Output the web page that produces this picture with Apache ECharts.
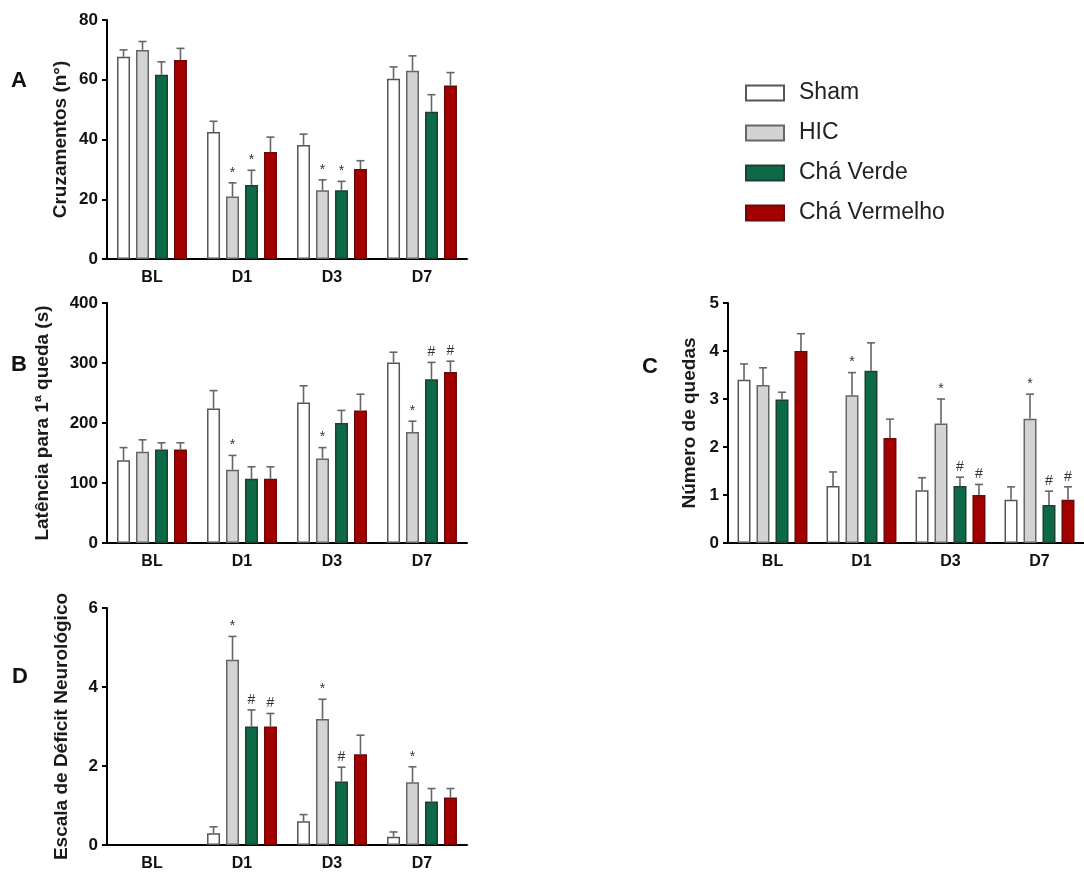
<!DOCTYPE html>
<html>
<head>
<meta charset="utf-8">
<script src="https://cdn.jsdelivr.net/npm/echarts@6/dist/echarts.min.js"></script>
<style>html,body{margin:0;padding:0;background:#fff}#c{width:1084px;height:872px}</style>
</head>
<body>
<div id="c"></div>
<script>
// ---- data ----
const categories = ['BL', 'D1', 'D3', 'D7'];
const groups = ['Sham', 'HIC', 'Chá Verde', 'Chá Vermelho'];

// Panel A: Cruzamentos (n°) — mean per group, cols = BL,D1,D3,D7
const aSham = [67.7, 42.5, 38.2, 60.3];
const aHIC  = [70.0, 20.9, 23.0, 63.0];
const aCV   = [61.7, 24.8, 23.0, 49.3];
const aCVm  = [66.6, 35.8, 30.1, 58.1];
// upper error bar ends
const aShamErr = [70.0, 46.1, 41.8, 64.3];
const aHICErr  = [72.8, 25.5, 26.5, 68.0];
const aCVErr   = [66.0, 29.7, 26.0, 55.0];
const aCVmErr  = [70.5, 40.8, 32.9, 62.4];
const aMarks = [['', '', '', ''], ['', '*', '*', ''], ['', '*', '*', ''], ['', '', '', '']];

// Panel B: Latência para 1ª queda (s)
const bSham = [138, 224, 234, 301];
const bHIC  = [152, 122, 141, 185];
const bCV   = [156, 107, 200, 273];
const bCVm  = [156, 107, 221, 285];
const bShamErr = [159, 254, 262, 318];
const bHICErr  = [172, 146, 159, 203];
const bCVErr   = [167, 127, 221, 301];
const bCVmErr  = [167, 127, 248, 303];
const bMarks = [['', '', '', ''], ['', '*', '', ''], ['', '*', '', ''], ['', '*', '#', '#']];

// Panel C: Número de quedas
const cSham = [3.40, 1.19, 1.10, 0.90];
const cHIC  = [3.29, 3.08, 2.49, 2.59];
const cCV   = [2.99, 3.59, 1.19, 0.79];
const cCVm  = [4.00, 2.19, 1.00, 0.90];
const cShamErr = [3.73, 1.48, 1.36, 1.17];
const cHICErr  = [3.65, 3.55, 3.00, 3.10];
const cCVErr   = [3.14, 4.17, 1.37, 1.08];
const cCVmErr  = [4.36, 2.58, 1.22, 1.17];
const cMarks = [['', '', '', ''], ['', '*', '', ''], ['', '*', '#', '#'], ['', '*', '#', '#']];

// Panel D: Escala de Déficit Neurológico
const dSham = [0, 0.30, 0.60, 0.21];
const dHIC  = [0, 4.69, 3.19, 1.59];
const dCV   = [0, 3.00, 1.61, 1.10];
const dCVm  = [0, 3.00, 2.30, 1.20];
const dShamErr = [0, 0.46, 0.77, 0.33];
const dHICErr  = [0, 5.28, 3.69, 1.98];
const dCVErr   = [0, 3.42, 1.97, 1.43];
const dCVmErr  = [0, 3.33, 2.78, 1.43];
const dMarks = [['', '', '', ''], ['', '*', '#', '#'], ['', '*', '#', ''], ['', '*', '', '']];

const yTitles = ['Cruzamentos (n°)', 'Latência para 1ª queda (s)', 'Número de quedas', 'Escala de Déficit Neurológico'];

// ---- styles ----
const fills   = ['#ffffff', '#d3d3d3', '#0d6a47', '#a30000'];
const borders = ['#555555', '#666666', '#1f3f30', '#6a0a0a'];
const BAR_W = 13;
const BAR_GAP = 0.46;
const FONT = 'Liberation Sans, Arial, sans-serif';

const panels = [
  {vals: [aSham, aHIC, aCV, aCVm], errs: [aShamErr, aHICErr, aCVErr, aCVmErr], marks: aMarks,
   grid: {left: 107, top: 20, width: 360, height: 239}, y: {min: 0, max: 80, interval: 20}, nameGap: 37},
  {vals: [bSham, bHIC, bCV, bCVm], errs: [bShamErr, bHICErr, bCVErr, bCVmErr], marks: bMarks,
   grid: {left: 107, top: 303, width: 360, height: 240}, y: {min: 0, max: 400, interval: 100}, nameGap: 55},
  {vals: [cSham, cHIC, cCV, cCVm], errs: [cShamErr, cHICErr, cCVErr, cCVmErr], marks: cMarks,
   grid: {left: 728, top: 303, width: 360, height: 240}, y: {min: 0, max: 5, interval: 1}, nameGap: 29},
  {vals: [dSham, dHIC, dCV, dCVm], errs: [dShamErr, dHICErr, dCVErr, dCVmErr], marks: dMarks,
   grid: {left: 107, top: 608, width: 360, height: 240}, y: {min: 0, max: 6, interval: 2}, nameGap: 36}
];

const grids = [], xAxes = [], yAxes = [], series = [];
panels.forEach((p, pi) => {
  grids.push(Object.assign({containLabel: false}, p.grid));
  xAxes.push({
    type: 'category', gridIndex: pi, data: categories,
    axisLine: {lineStyle: {color: '#000', width: 2}},
    axisTick: {alignWithLabel: true, length: 5, lineStyle: {color: '#000', width: 2}},
    axisLabel: {color: '#111', fontWeight: 'bold', fontSize: 16, fontFamily: FONT, margin: 11},
    splitLine: {show: false}
  });
  yAxes.push({
    type: 'value', gridIndex: pi, min: p.y.min, max: p.y.max, interval: p.y.interval,
    name: yTitles[pi], nameLocation: 'middle', nameGap: p.nameGap, nameRotate: 90,
    nameTextStyle: {color: '#1a1a1a', fontSize: 19, fontWeight: 'bold', fontFamily: FONT},
    axisLine: {show: true, lineStyle: {color: '#000', width: 2}},
    axisTick: {show: true, length: 5, lineStyle: {color: '#000', width: 2}},
    axisLabel: {color: '#111', fontWeight: 'bold', fontSize: 17, fontFamily: FONT, margin: 9},
    splitLine: {show: false}
  });
  groups.forEach((g, gi) => {
    series.push({
      type: 'bar', name: g, xAxisIndex: pi, yAxisIndex: pi,
      data: p.vals[gi].map(v => v === 0 ? {value: 0, itemStyle: {borderWidth: 0}} : v),
      barWidth: BAR_W, barGap: (BAR_GAP * 100) + '%',
      itemStyle: {color: fills[gi], borderColor: borders[gi], borderWidth: 1.5},
      emphasis: {disabled: true}, z: 2
    });
  });
  const ebData = [], ebMarks = [];
  categories.forEach((c, ci) => {
    groups.forEach((g, gi) => {
      ebData.push([ci, gi, p.vals[gi][ci], p.errs[gi][ci]]);
      ebMarks.push(p.marks[ci][gi]);
    });
  });
  series.push({
    type: 'custom', xAxisIndex: pi, yAxisIndex: pi, data: ebData, z: 5, silent: true,
    encode: {x: 0, y: 3},
    renderItem: function (params, api) {
      const ci = api.value(0), gi = api.value(1), v = api.value(2), e = api.value(3);
      const off = (gi - 1.5) * BAR_W * (1 + BAR_GAP);
      const p0 = api.coord([ci, v]);
      const p1 = api.coord([ci, e]);
      const x = p0[0] + off;
      const children = [];
      if (e > v) {
        children.push({type: 'line', shape: {x1: x, y1: p0[1], x2: x, y2: p1[1]},
          style: {stroke: '#666', lineWidth: 1.6}});
        children.push({type: 'line', shape: {x1: x - 4, y1: p1[1], x2: x + 4, y2: p1[1]},
          style: {stroke: '#666', lineWidth: 1.6}});
      }
      const m = ebMarks[params.dataIndex];
      if (m) {
        children.push({type: 'text', style: {text: m, x: x, y: p1[1] - 3,
          align: 'center', verticalAlign: 'bottom', fill: '#333',
          font: '14px ' + FONT}});
      }
      return {type: 'group', children: children};
    }
  });
});

const chart = echarts.init(document.getElementById('c'), null, {renderer: 'canvas'});
chart.setOption({
  animation: false,
  backgroundColor: '#ffffff',
  grid: grids, xAxis: xAxes, yAxis: yAxes, series: series,
  legend: {
    data: groups, orient: 'vertical', left: 740, top: 76,
    icon: 'rect', itemWidth: 38, itemHeight: 15, itemGap: 16,
    textStyle: {fontSize: 23, lineHeight: 24, color: '#222', fontFamily: FONT, padding: [0, 0, 0, 10]},
    selectedMode: false
  },
  graphic: [
    {type: 'text', left: 11, top: 70, style: {text: 'A', font: 'bold 22px ' + FONT, fill: '#111'}},
    {type: 'text', left: 11, top: 354, style: {text: 'B', font: 'bold 22px ' + FONT, fill: '#111'}},
    {type: 'text', left: 642, top: 356, style: {text: 'C', font: 'bold 22px ' + FONT, fill: '#111'}},
    {type: 'text', left: 12, top: 666, style: {text: 'D', font: 'bold 22px ' + FONT, fill: '#111'}}
  ]
});
</script>
</body>
</html>
